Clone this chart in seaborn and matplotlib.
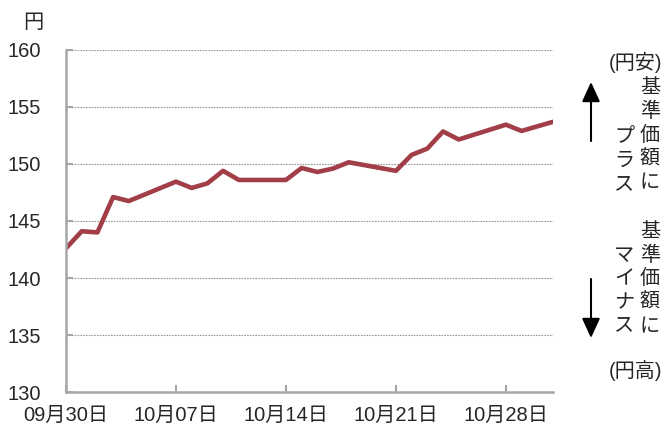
import matplotlib
matplotlib.use('Agg')
import matplotlib.pyplot as plt
import matplotlib.dates as mdates
import seaborn as sns
import pandas as pd

# 基準価額 (円), business days
dates = ["2024-09-30", "2024-10-01", "2024-10-02", "2024-10-03", "2024-10-04",
         "2024-10-07", "2024-10-08", "2024-10-09", "2024-10-10", "2024-10-11",
         "2024-10-14", "2024-10-15", "2024-10-16", "2024-10-17", "2024-10-18",
         "2024-10-21", "2024-10-22", "2024-10-23", "2024-10-24", "2024-10-25",
         "2024-10-28", "2024-10-29", "2024-10-30", "2024-10-31"]
values = [142.6, 144.1, 144.0, 147.1, 146.75,
          148.45, 147.9, 148.3, 149.4, 148.6,
          148.6, 149.65, 149.3, 149.6, 150.15,
          149.4, 150.8, 151.35, 152.85, 152.15,
          153.45, 152.9, 153.3, 153.7]
tick_dates = ["2024-09-30", "2024-10-07", "2024-10-14", "2024-10-21", "2024-10-28"]
y_ticks = [130, 135, 140, 145, 150, 155, 160]

df = pd.DataFrame({"date": pd.to_datetime(dates), "value": values})

sns.set_style("white")
plt.rcParams['font.family'] = ['Liberation Sans', 'Noto Sans CJK JP', 'DejaVu Sans']
plt.rcParams['font.size'] = 14.5

fig = plt.figure(figsize=(6.65, 4.28), dpi=100)
ax = fig.add_axes([0.0992, 0.0841, 0.7324, 0.7991])

sns.lineplot(data=df, x="date", y="value", color="#A23E48", linewidth=3.3, ax=ax)

ax.set_ylim(130, 160)
ax.set_yticks(y_ticks)
ax.set_xlim(pd.Timestamp("2024-09-30"), pd.Timestamp("2024-10-31"))
ax.set_xticks(pd.to_datetime(tick_dates))
ax.xaxis.set_major_formatter(mdates.DateFormatter("%m月%d日"))

ax.set_xlabel("")
ax.set_ylabel("")

# grid
for v in y_ticks[1:]:
    ax.axhline(v, color="#999999", linestyle=(0, (1.5, 1)), linewidth=0.8, zorder=0)

for side in ["top", "right"]:
    ax.spines[side].set_visible(False)
for side in ["left", "bottom"]:
    ax.spines[side].set_color("#A6A6A6")
    ax.spines[side].set_linewidth(1.8)

ax.tick_params(axis="y", direction="in", length=5, width=1.5, color="#A6A6A6", pad=18, labelsize=14.5)
ax.tick_params(axis="x", direction="in", length=5, width=1.5, color="#A6A6A6", pad=10, labelsize=14.5)
ax.tick_params(left=True, bottom=True)

# unit label
fig.text(33 / 665, 1 - 22 / 428, "円", ha="center", va="center", fontsize=14.5)

# right-side annotation
def px(x, y):
    return x / 665, 1 - y / 428

fs = 14.5
fig.text(*px(635, 62), "(円安)", ha="center", va="center", fontsize=fs)
for i, ch in enumerate("基準価額に"):
    fig.text(*px(650, 88 + i * 23.7), ch, ha="center", va="center", fontsize=fs)
for i, ch in enumerate("プラス"):
    fig.text(*px(624, 137 + i * 23.7), ch, ha="center", va="center", fontsize=fs)
for i, ch in enumerate("基準価額に"):
    fig.text(*px(650, 231.5 + i * 23.7), ch, ha="center", va="center", fontsize=fs)
for i, ch in enumerate("マイナス"):
    fig.text(*px(624, 255 + i * 23.7), ch, ha="center", va="center", fontsize=fs)
fig.text(*px(635, 371), "(円高)", ha="center", va="center", fontsize=fs)

arrow_style = "-|>,head_length=12,head_width=5.5"
fig.patches.append(matplotlib.patches.FancyArrowPatch(
    px(591, 141), px(591, 82), transform=fig.transFigure,
    arrowstyle=arrow_style, color="black", linewidth=1.5,
    shrinkA=0, shrinkB=0))
fig.patches.append(matplotlib.patches.FancyArrowPatch(
    px(591, 279), px(591, 338), transform=fig.transFigure,
    arrowstyle=arrow_style, color="black", linewidth=1.5,
    shrinkA=0, shrinkB=0))

plt.savefig("out.png", dpi=100, facecolor="white")
plt.close()
